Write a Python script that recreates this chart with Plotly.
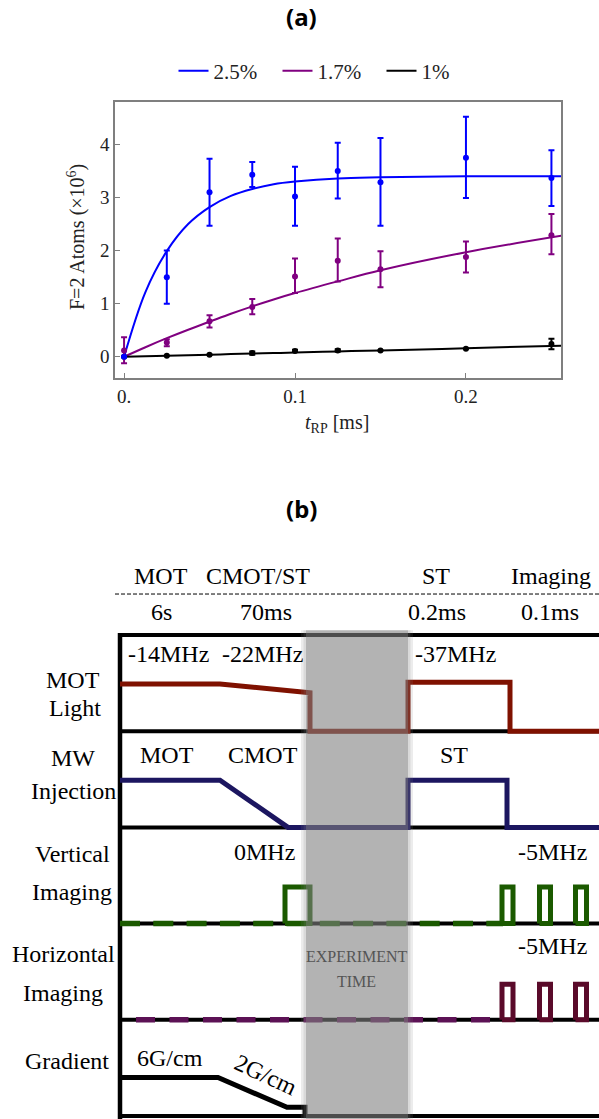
import plotly.graph_objects as go

W, H = 599, 1119

# ---------------- panel (a) data ----------------
t_data = [0, 0.025, 0.05, 0.075, 0.1, 0.125, 0.15, 0.2, 0.25]
blue_y = [0.0, 1.50, 3.10, 3.43, 3.02, 3.50, 3.29, 3.75, 3.37]
blue_hi = [0.0, 2.00, 3.73, 3.67, 3.58, 4.03, 4.12, 4.52, 3.89]
blue_lo = [0.0, 1.00, 2.47, 3.20, 2.47, 2.98, 2.47, 2.99, 2.84]
purple_y = [0.12, 0.27, 0.67, 0.94, 1.51, 1.81, 1.65, 1.88, 2.29]
purple_hi = [0.37, 0.33, 0.78, 1.09, 1.85, 2.23, 1.99, 2.17, 2.69]
purple_lo = [-0.12, 0.20, 0.55, 0.80, 1.20, 1.42, 1.31, 1.59, 1.93]
black_y = [0.0, 0.02, 0.04, 0.07, 0.11, 0.12, 0.12, 0.15, 0.24]
black_hi = [0.0, 0.02, 0.04, 0.10, 0.13, 0.14, 0.12, 0.15, 0.34]
black_lo = [0.0, 0.02, 0.04, 0.04, 0.09, 0.10, 0.12, 0.15, 0.14]

fit_t = [0, 0.0125, 0.025, 0.0375, 0.05, 0.0625, 0.075, 0.0875, 0.1, 0.125, 0.15, 0.2, 0.256]
blue_fit = [0, 1.22, 1.99, 2.50, 2.82, 3.03, 3.16, 3.25, 3.30, 3.36, 3.38, 3.40, 3.40]
purple_fit = [0, 0.18, 0.35, 0.51, 0.66, 0.81, 0.95, 1.08, 1.20, 1.42, 1.63, 1.97, 2.28]
black_fit = [0, 0.01, 0.02, 0.03, 0.04, 0.05, 0.06, 0.07, 0.08, 0.10, 0.12, 0.16, 0.21]

series_names = ["2.5%", "1.7%", "1%"]
series_colors = ["#0000ff", "#800080", "#000000"]

x_ticks = [0, 0.1, 0.2]
x_ticklabels = ["0.", "0.1", "0.2"]
y_ticks = [0, 1, 2, 3, 4]

# ---------------- panel (b) data (time in diagram units, level = fraction of row) ----------------
mot_light_t = [0, 10.0, 19.0, 19.0, 28.8, 28.8, 39.0, 39.0, 48.5]
mot_light_lv = [0.49, 0.49, 0.40, 0.0, 0.0, 0.51, 0.51, 0.0, 0.0]
mw_t = [0, 10.0, 16.8, 28.8, 28.8, 38.7, 38.7, 48.5]
mw_lv = [0.49, 0.49, 0.0, 0.0, 0.49, 0.49, 0.0, 0.0]
vimg_on = [16.5, 38.2, 41.95, 45.55]
vimg_off = [19.0, 39.3, 43.05, 46.65]
vimg_level = 0.38
vimg_dash = [0.0, 38.3]
himg_on = [38.2, 41.95, 45.55]
himg_off = [39.3, 43.05, 46.65]
himg_level = 0.37
himg_dash = [1.6, 37.2]
grad_t = [0, 9.8, 16.7, 18.5, 18.5]
grad_lv = [0.40, 0.40, 0.09, 0.09, 0.0]
experiment_window = [18.6, 28.8]
row_baseline = [4, 3, 2, 1, 0]  # MOT light, MW, vertical, horizontal, gradient

fig = go.Figure()

# ---- panel (a) traces ----
fits = [blue_fit, purple_fit, black_fit]
for name, col, fy in zip(series_names, series_colors, fits):
    fig.add_trace(go.Scatter(x=fit_t, y=fy, mode="lines", name=name,
                             line=dict(color=col, width=2, shape="spline"),
                             xaxis="x", yaxis="y", showlegend=True))

pts = [(black_y, black_hi, black_lo, series_colors[2]),
       (purple_y, purple_hi, purple_lo, series_colors[1]),
       (blue_y, blue_hi, blue_lo, series_colors[0])]
for yv, hi, lo, col in pts:
    plus = [h - v for h, v in zip(hi, yv)]
    minus = [v - l for v, l in zip(yv, lo)]
    fig.add_trace(go.Scatter(x=t_data, y=yv, mode="markers",
                             marker=dict(color=col, size=6),
                             error_y=dict(type="data", array=plus, arrayminus=minus,
                                          color=col, thickness=2, width=3),
                             xaxis="x", yaxis="y", showlegend=False))

# ---- panel (b) traces ----
def abs_level(levels, base):
    return [base + v for v in levels]

fig.add_trace(go.Scatter(x=mot_light_t, y=abs_level(mot_light_lv, row_baseline[0]), mode="lines",
                         line=dict(color="#7f1100", width=5), xaxis="x2", yaxis="y2", showlegend=False))
fig.add_trace(go.Scatter(x=mw_t, y=abs_level(mw_lv, row_baseline[1]), mode="lines",
                         line=dict(color="#1c1660", width=5), xaxis="x2", yaxis="y2", showlegend=False))

# dashed baselines
fig.add_trace(go.Scatter(x=vimg_dash, y=[row_baseline[2]] * 2, mode="lines",
                         line=dict(color="#1b5a00", width=5.5, dash="20px,13.3px"),
                         xaxis="x2", yaxis="y2", showlegend=False))
fig.add_trace(go.Scatter(x=himg_dash, y=[row_baseline[3]] * 2, mode="lines",
                         line=dict(color="#5c1255", width=5.5, dash="19px,14.5px"),
                         xaxis="x2", yaxis="y2", showlegend=False))


def pulses(on, off, level, base):
    xs, ys = [], []
    for a, b in zip(on, off):
        xs += [a, a, b, b, a, None]
        ys += [base, base + level, base + level, base, base, None]
    return xs, ys

vx, vy = pulses(vimg_on, vimg_off, vimg_level, row_baseline[2])
fig.add_trace(go.Scatter(x=vx, y=vy, mode="lines", line=dict(color="#1b5a00", width=5),
                         xaxis="x2", yaxis="y2", showlegend=False))
hx, hy = pulses(himg_on, himg_off, himg_level, row_baseline[3])
fig.add_trace(go.Scatter(x=hx, y=hy, mode="lines", line=dict(color="#5a0a2a", width=5),
                         xaxis="x2", yaxis="y2", showlegend=False))
fig.add_trace(go.Scatter(x=grad_t, y=abs_level(grad_lv, row_baseline[4]), mode="lines",
                         line=dict(color="#000000", width=5), xaxis="x2", yaxis="y2", showlegend=False))

# ---- layout geometry ----
ROW_PX = 96.2
Y0_PX = 1116.0
b_dom_top = 0.5
y2_bottom = (Y0_PX - H) / ROW_PX
y2_top = (Y0_PX - (1 - b_dom_top) * H) / ROW_PX

shapes = []
for yy in [5, 4, 3, 2, 1, 0]:
    shapes.append(dict(type="line", xref="x2", yref="y2", x0=0, x1=49, y0=yy, y1=yy,
                       line=dict(color="black", width=4), layer="below"))
shapes.append(dict(type="line", xref="x2", yref="y2", x0=0, x1=0, y0=-0.05, y1=5.02,
                   line=dict(color="black", width=4.5), layer="below"))
shapes.append(dict(type="line", xref="x2", yref="y2", x0=-0.5, x1=48, y0=5.426, y1=5.426,
                   line=dict(color="black", width=1, dash="4px,2px"), layer="below"))
e0, e1 = experiment_window
shapes.append(dict(type="rect", xref="x2", yref="y2", x0=e0, x1=e1, y0=-0.05, y1=5.05,
                   fillcolor="rgba(128,128,128,0.6)", line=dict(width=0), layer="above"))
for k, a in enumerate([0.3, 0.15]):
    d0 = 0.25 * k
    shapes.append(dict(type="rect", xref="x2", yref="y2", x0=e0 - 0.25 - d0, x1=e0 - d0, y0=-0.05, y1=5.05,
                       fillcolor="rgba(128,128,128,%s)" % a, line=dict(width=0), layer="above"))
    shapes.append(dict(type="rect", xref="x2", yref="y2", x0=e1 + d0, x1=e1 + 0.25 + d0, y0=-0.05, y1=5.05,
                       fillcolor="rgba(128,128,128,%s)" % a, line=dict(width=0), layer="above"))

SERIF = "'Liberation Serif', 'Times New Roman', 'DejaVu Serif', serif"
ann = []

def txt(text, x, y, size=24, color="black", angle=0, font=SERIF, bold=False):
    ann.append(dict(text=("<b>%s</b>" % text) if bold else text, x=x / W, y=1 - y / H,
                    xref="paper", yref="paper", showarrow=False, xanchor="center", yanchor="middle",
                    textangle=angle, font=dict(family=font, size=size, color=color)))

# titles
txt("(a)", 301, 17, size=24, font="'Noto Sans', sans-serif", bold=True)
txt("(b)", 301, 509, size=24, font="'Noto Sans', sans-serif", bold=True)
# panel (a) axis titles
txt("F=2 Atoms (×10<sup>6</sup>)", 76, 237, size=20, angle=-90, color="#222")
txt("<i>t</i><sub>RP</sub> [ms]", 337, 424, size=20, color="#222")

# diagram header
for s, x in [("MOT", 161), ("CMOT/ST", 258), ("ST", 436), ("Imaging", 551)]:
    txt(s, x, 576)
for s, x in [("6s", 161), ("70ms", 266), ("0.2ms", 437), ("0.1ms", 550)]:
    txt(s, x, 612)
# row labels
for s, x, y in [("MOT", 73, 680), ("Light", 75, 708), ("MW", 73, 758), ("Injection", 73, 791),
                ("Vertical", 72, 854), ("Imaging", 72, 892), ("Horizontal", 63, 954),
                ("Imaging", 63, 993), ("Gradient", 67, 1061)]:
    txt(s, x, y)
# in-diagram labels
for s, x, y in [("-14MHz", 168, 654), ("-22MHz", 262, 654), ("-37MHz", 455, 654),
                ("MOT", 167, 755), ("CMOT", 263, 755), ("ST", 454, 755),
                ("0MHz", 264, 852), ("-5MHz", 552, 852), ("-5MHz", 552, 946),
                ("6G/cm", 170, 1058)]:
    txt(s, x, y)
txt("2G/cm", 266, 1075, angle=25)
txt("EXPERIMENT", 357, 956, size=16, color="#555555")
txt("TIME", 357, 981, size=16, color="#555555")

axis_font = dict(family=SERIF, size=19, color="#222")
fig.update_layout(
    width=W, height=H, margin=dict(l=0, r=0, t=0, b=0),
    paper_bgcolor="white", plot_bgcolor="white",
    showlegend=True,
    legend=dict(orientation="h", x=0.5 + 30 / W, xanchor="center", y=1 - 71 / H, yanchor="middle",
                font=dict(family=SERIF, size=21, color="#222"), itemwidth=30,
                entrywidth=59, entrywidthmode="pixels",
                bgcolor="rgba(0,0,0,0)"),
    xaxis=dict(domain=[115 / W, 561 / W], range=[-0.0053, 0.2556], anchor="y",
               tickvals=x_ticks, ticktext=x_ticklabels, ticks="inside", ticklen=5,
               tickcolor="#7f7f7f", showline=True, linecolor="#7f7f7f", linewidth=1.5,
               mirror=True, showgrid=False, zeroline=False, tickfont=axis_font),
    yaxis=dict(domain=[1 - 378 / H, 1 - 102 / H], range=[-0.40, 4.80], anchor="x",
               tickvals=y_ticks, ticks="inside", ticklen=5,
               tickcolor="#7f7f7f", showline=True, linecolor="#7f7f7f", linewidth=1.5,
               mirror=True, showgrid=False, zeroline=False, tickfont=axis_font),
    xaxis2=dict(domain=[0, 1], range=[-12, 47.9], anchor="y2", visible=False, fixedrange=True),
    yaxis2=dict(domain=[0, b_dom_top], range=[y2_bottom, y2_top], anchor="x2", visible=False,
                fixedrange=True),
    shapes=shapes, annotations=ann,
)

fig.write_html("out.html")
